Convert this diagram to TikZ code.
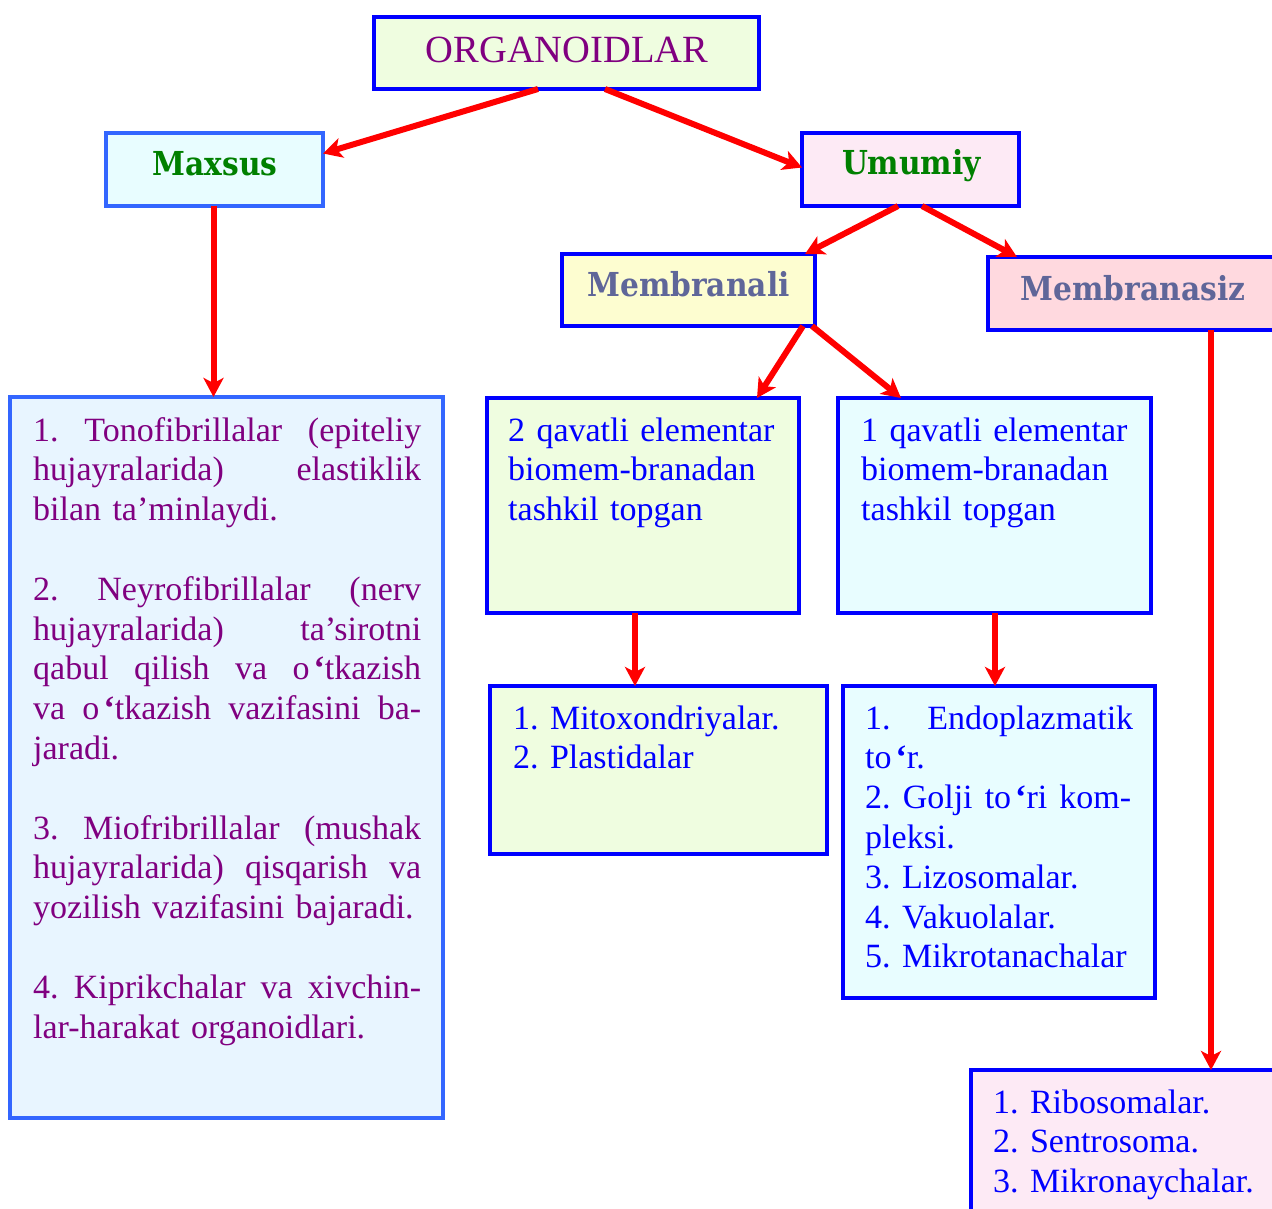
\documentclass[tikz,border=0pt]{standalone}
\usepackage{fontspec}
\setmainfont{Liberation Serif}
\newfontfamily\hfont[FakeStretch=0.9]{DejaVu Serif}
\usetikzlibrary{arrows.meta,calc}
\setlength{\parindent}{0pt}
\frenchspacing
\definecolor{cBlue}{HTML}{0000FF}
\definecolor{cBlueL}{HTML}{3366FF}
\definecolor{cPurple}{HTML}{800080}
\definecolor{cGreen}{HTML}{008000}
\definecolor{cSlate}{HTML}{5F6699}
\definecolor{fGreen}{HTML}{EFFDE0}
\definecolor{fCyan}{HTML}{E8FDFF}
\definecolor{fPink}{HTML}{FDEAF5}
\definecolor{fYellow}{HTML}{FDFDD0}
\definecolor{fRose}{HTML}{FFD9DF}
\definecolor{fSky}{HTML}{E8F5FF}
\definecolor{cRed}{HTML}{FF0000}
\newcommand\jl[2][388pt]{\leavevmode\hbox to #1{#2}}
\newcommand\tq{\kern4pt{\bfseries ‘}}
\begin{document}
\begin{tikzpicture}[x=1pt,y=-1pt,
  box/.style={draw=cBlue,line width=4pt,inner sep=0pt,outer sep=0pt},
  head/.style={anchor=base,inner sep=0pt,font=\hfont\bfseries\fontsize{33}{38}\selectfont},
  body/.style={anchor=base west,inner sep=0pt,align=left,font=\fontsize{34}{39.8}\selectfont},
  arr/.style={draw=cRed,line width=6pt,-{Stealth[length=19pt,width=20pt,inset=5pt]}}]
\useasboundingbox (0,0) rectangle (1272,1208);
\clip (0,0) rectangle (1272,1208);
% boxes
\node[box,fill=fGreen,minimum width=385pt,minimum height=72pt] (org) at (566.5,53) {};
\node[box,fill=fCyan,draw=cBlueL,minimum width=217pt,minimum height=73pt] (maxsus) at (214.5,169.5) {};
\node[box,fill=fPink,minimum width=217pt,minimum height=73pt] (umumiy) at (910.5,169.5) {};
\node[box,fill=fYellow,minimum width=253pt,minimum height=72pt] (memb) at (688.5,290) {};
\node[box,fill=fRose,minimum width=292pt,minimum height=73pt] (membz) at (1134,293.5) {};
\node[box,fill=fSky,draw=cBlueL,minimum width=433pt,minimum height=721pt] (left) at (226.5,757.5) {};
\node[box,fill=fGreen,minimum width=312pt,minimum height=215pt] (qav2) at (643,505.5) {};
\node[box,fill=fCyan,minimum width=313pt,minimum height=215pt] (qav1) at (994.5,505.5) {};
\node[box,fill=fGreen,minimum width=337pt,minimum height=168pt] (mito) at (658.5,770) {};
\node[box,fill=fCyan,minimum width=312pt,minimum height=312pt] (endo) at (999,842) {};
\node[box,fill=fPink,minimum width=319pt,minimum height=160pt] (ribo) at (1130.5,1150) {};
% headings
\node[anchor=base,inner sep=0pt,text=cPurple,font=\fontsize{38.5}{44}\selectfont] (torg) at (567,62) {ORGANOIDLAR};
\node[head,text=cGreen] (tmaxsus) at (215,175) {Maxsus};
\node[head,text=cGreen] (tumumiy) at (911.5,174.5) {Umumiy};
\node[head,text=cSlate] (tmemb) at (688.5,296) {Membranali};
\node[head,text=cSlate] (tmembz) at (1133,300) {Membranasiz};
% body texts
\node[body,text=cPurple,text width=388pt] (tleft) at (33,441) {%
\jl{1.\hfill Tonofibrillalar\hfill (epiteliy}\\
\jl{hujayralarida)\hfill elastiklik}\\
bilan ta’minlaydi.\\[39.8pt]
\jl{2.\hfill Neyrofibrillalar\hfill (nerv}\\
\jl{hujayralarida)\hfill ta’sirotni}\\
\jl{qabul\hfill qilish\hfill va\hfill o\tq{}tkazish}\\
\jl{va\hfill o\tq{}tkazish\hfill vazifasini\hfill ba-}\\
jaradi.\\[39.8pt]
\jl{3.\hfill Miofribrillalar\hfill (mushak}\\
\jl{hujayralarida)\hfill qisqarish\hfill va}\\
yozilish vazifasini bajaradi.\\[39.8pt]
\jl{4.\hfill Kiprikchalar\hfill va\hfill xivchin-}\\
lar-harakat organoidlari.};
\node[body,text=cBlue,text width=285pt] (tqav2) at (508,441) {2 qavatli elementar\\biomem-branadan\\tashkil topgan};
\node[body,text=cBlue,text width=285pt] (tqav1) at (861,441) {1 qavatli elementar\\biomem-branadan\\tashkil topgan};
\node[body,text=cBlue,text width=300pt] (tmito) at (513,729) {1. Mitoxondriyalar.\\2. Plastidalar};
\node[body,text=cBlue,text width=268pt] (tendo) at (865,729) {%
\jl[268pt]{1.\hfill Endoplazmatik}\\
to\tq{}r.\\
\jl[266pt]{2.\hfill Golji\hfill to\tq{}ri\hfill kom-}\\
pleksi.\\
3. Lizosomalar.\\
4. Vakuolalar.\\
5. Mikrotanachalar};
\node[body,text=cBlue,text width=275pt] (tribo) at (993,1113) {1. Ribosomalar.\\2. Sentrosoma.\\3. Mikronaychalar.};
% connectors
\draw[arr] ([xshift=-28.5pt]org.south) -- ([yshift=16pt]maxsus.east);
\draw[arr] ([xshift=38.5pt]org.south) -- ([yshift=2pt]umumiy.west);
\draw[arr] ([xshift=-1pt]maxsus.south) -- ([xshift=-13pt]left.north);
\draw[arr] ([xshift=-12.5pt]umumiy.south) -- ([xshift=-10pt]memb.north east);
\draw[arr] ([xshift=11.5pt]umumiy.south) -- ([xshift=29pt]membz.north west);
\draw[arr] ([xshift=-12pt]memb.south east) -- ([xshift=-42pt]qav2.north east);
\draw[arr] ([xshift=-3pt]memb.south east) -- ([xshift=63pt]qav1.north west);
\draw[arr] ([xshift=-8pt]qav2.south) -- ([xshift=-23.5pt]mito.north);
\draw[arr] ([xshift=0.5pt]qav1.south) -- ([xshift=-4pt]endo.north);
\draw[arr] ([xshift=77pt]membz.south) -- ([xshift=80.5pt]ribo.north);
\end{tikzpicture}
\end{document}
